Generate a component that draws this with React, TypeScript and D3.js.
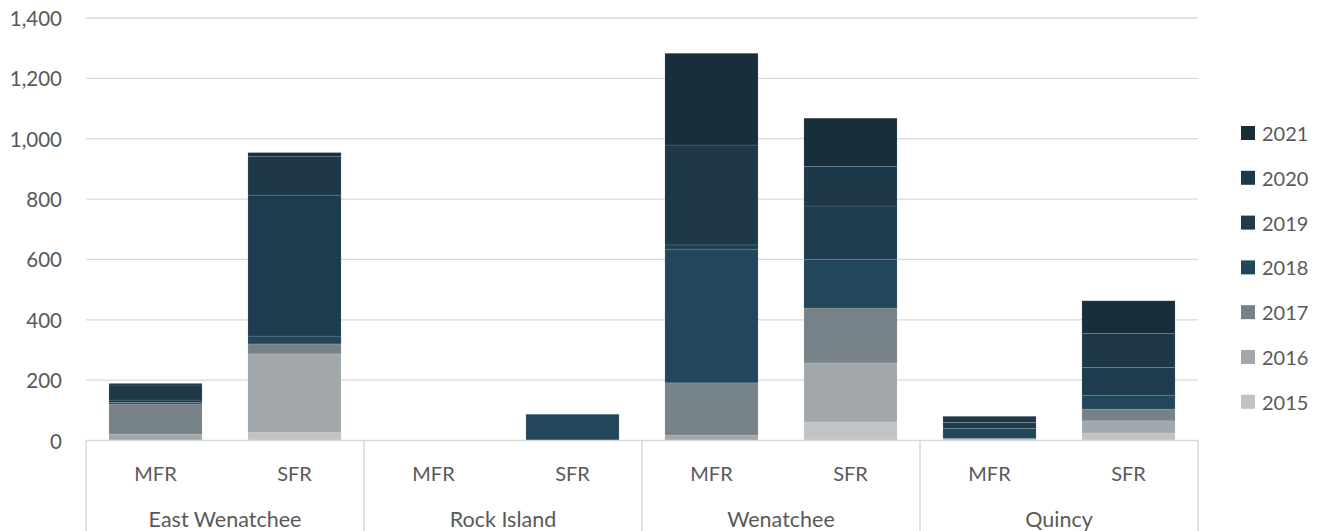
import React from "react";
import * as d3 from "d3";

// Cities (outer axis level) and housing types (inner level)
const cities = ["East Wenatchee", "Rock Island", "Wenatchee", "Quincy"];
const housingTypes = ["MFR", "SFR"];

// Permitted units per year, one value per bar in order:
// EW MFR, EW SFR, RI MFR, RI SFR, W MFR, W SFR, Q MFR, Q SFR
const units2015 = [0, 26, 0, 0, 0, 61, 2, 25];
const units2016 = [21, 261, 0, 0, 18, 196, 2, 40];
const units2017 = [100, 33, 0, 0, 173, 182, 3, 39];
const units2018 = [5, 26, 0, 87, 443, 161, 33, 46];
const units2019 = [8, 467, 0, 0, 14, 177, 20, 92];
const units2020 = [50, 129, 0, 0, 331, 131, 19, 113];
const units2021 = [5, 12, 0, 0, 304, 160, 2, 108];

const years = ["2015", "2016", "2017", "2018", "2019", "2020", "2021"];
const yearColors = ["#c0c4c7", "#a2a7ab", "#778188", "#22465a", "#1e3c4e", "#1c3849", "#182e3b"];
const yTicks = [0, 200, 400, 600, 800, 1000, 1200, 1400];

const W = 1322;
const H = 531;
const FONT = "Lato, 'Open Sans', sans-serif";
const TEXT = "#595959";
const GRID = "#d9d9d9";

export default function App() {
  const seriesValues = [units2015, units2016, units2017, units2018, units2019, units2020, units2021];

  // Build one row per bar for d3.stack
  const rows = cities.flatMap((city, ci) =>
    housingTypes.map((type, ti) => {
      const idx = ci * housingTypes.length + ti;
      const row: Record<string, any> = { city, type };
      years.forEach((y, yi) => (row[y] = seriesValues[yi][idx]));
      return row;
    })
  );

  const stacked = d3.stack<any>().keys(years)(rows);

  const x0 = d3.scaleBand<string>().domain(cities).range([86, 1198]).padding(0);
  const x1 = d3
    .scaleBand<string>()
    .domain(housingTypes)
    .range([0, x0.bandwidth()])
    .paddingInner(0.33)
    .paddingOuter(0.165);
  const y = d3.scaleLinear().domain([0, 1400]).range([440.5, 18]);
  const fmt = d3.format(",");

  const axisY = y(0);
  const legendTop = 133;
  const legendStep = 44.8;

  return (
    <div style={{ position: "absolute", left: 0, top: 0 }}>
      <svg width={W} height={H} style={{ display: "block", background: "#fff" }}>
        {/* gridlines and value labels */}
        {yTicks.map((t) => (
          <g key={t}>
            {t > 0 && (
              <line x1={86} x2={1198} y1={y(t)} y2={y(t)} stroke={GRID} strokeWidth={1.3} />
            )}
            <text
              x={62}
              y={y(t)}
              textAnchor="end"
              dominantBaseline="central"
              fontFamily={FONT}
              fontSize={20.5}
              fill={TEXT}
            >
              {fmt(t)}
            </text>
          </g>
        ))}

        {/* stacked bars */}
        {stacked.map((layer, li) => (
          <g key={layer.key} fill={yearColors[li]}>
            {layer.map((d, i) => {
              const h = y(d[0]) - y(d[1]);
              if (h <= 0) return null;
              const row = rows[i];
              return (
                <rect
                  key={i}
                  x={(x0(row.city) ?? 0) + (x1(row.type) ?? 0)}
                  y={y(d[1])}
                  width={x1.bandwidth()}
                  height={h}
                  stroke="#ffffff"
                  strokeOpacity={0.14}
                  strokeWidth={0.8}
                />
              );
            })}
          </g>
        ))}

        {/* category axis */}
        <line x1={86} x2={1198} y1={axisY} y2={axisY} stroke={GRID} strokeWidth={1.5} />
        {[...cities.map((c) => x0(c) ?? 0), 1198].map((xv, i) => (
          <line key={i} x1={xv} x2={xv} y1={axisY} y2={H} stroke={GRID} strokeWidth={1.5} />
        ))}
        {cities.map((city) => (
          <g key={city}>
            {housingTypes.map((type) => (
              <text
                key={type}
                x={(x0(city) ?? 0) + (x1(type) ?? 0) + x1.bandwidth() / 2}
                y={473}
                textAnchor="middle"
                dominantBaseline="central"
                fontFamily={FONT}
                fontSize={20}
                fill={TEXT}
              >
                {type}
              </text>
            ))}
            <text
              x={(x0(city) ?? 0) + x0.bandwidth() / 2}
              y={519}
              textAnchor="middle"
              dominantBaseline="central"
              fontFamily={FONT}
              fontSize={21.5}
              fill={TEXT}
            >
              {city}
            </text>
          </g>
        ))}

        {/* legend, newest year first */}
        {years
          .map((yr, i) => ({ yr, color: yearColors[i] }))
          .reverse()
          .map((item, i) => (
            <g key={item.yr} transform={`translate(1241, ${legendTop + i * legendStep})`}>
              <rect x={0} y={-7} width={14} height={14} fill={item.color} />
              <text
                x={21}
                y={0}
                dominantBaseline="central"
                fontFamily={FONT}
                fontSize={20}
                fill={TEXT}
              >
                {item.yr}
              </text>
            </g>
          ))}
      </svg>
    </div>
  );
}
